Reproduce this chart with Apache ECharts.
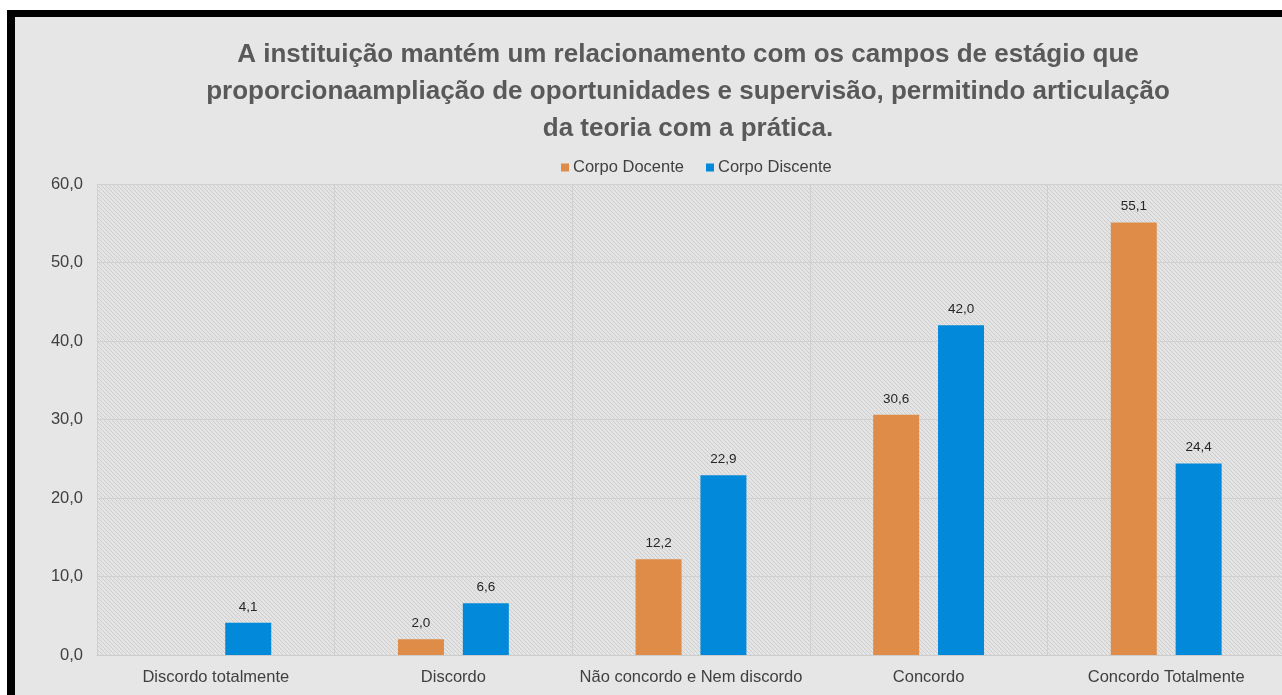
<!DOCTYPE html>
<html>
<head>
<meta charset="utf-8">
<script src="https://cdn.jsdelivr.net/npm/echarts@6/dist/echarts.min.js"></script>
<style>
  html, body { margin: 0; padding: 0; overflow: hidden; background: #fff; }
  #chart { width: 1376px; height: 695px; }
</style>
</head>
<body>
<div id="chart"></div>
<script>
const categories = ["Discordo totalmente", "Discordo", "Não concordo e Nem discordo", "Concordo", "Concordo Totalmente"];
const docente = [null, 2.0, 12.2, 30.6, 55.1];
const discente = [4.1, 6.6, 22.9, 42.0, 24.4];
const yTicks = [0, 10, 20, 30, 40, 50, 60];

const narrow = "'Liberation Sans Narrow', 'Arial Narrow', 'Liberation Sans', sans-serif";
const fmt = v => Number(v).toFixed(1).replace(".", ",");

// diagonal hatch for plot area
const pat = document.createElement("canvas");
pat.width = 4; pat.height = 4;
const pc = pat.getContext("2d");
pc.fillStyle = "#e4e4e4";
pc.fillRect(0, 0, 4, 4);
pc.strokeStyle = "#cdcdcd";
pc.lineWidth = 1;
pc.beginPath();
pc.moveTo(-1, -1); pc.lineTo(5, 5);
pc.moveTo(-1, 3); pc.lineTo(1, 5);
pc.moveTo(3, -1); pc.lineTo(5, 1);
pc.stroke();

const chart = echarts.init(document.getElementById("chart"));
const option = {
  backgroundColor: "#ffffff",
  graphic: [
    { type: "rect", z: -100, shape: { x: 7, y: 10, width: 2000, height: 1000 }, style: { fill: "#000" } },
    { type: "rect", z: -99, shape: { x: 15, y: 17, width: 2000, height: 1000 }, style: { fill: "#e6e6e6" } }
  ],
  title: {
    text: "A instituição mantém um relacionamento com os campos de estágio que\nproporcionaampliação de oportunidades e supervisão, permitindo articulação\nda teoria com a prática.",
    left: "center",
    top: 31,
    textStyle: {
      fontFamily: "'Liberation Sans', Arial, sans-serif",
      fontSize: 26,
      fontWeight: "bold",
      color: "#595959",
      lineHeight: 37
    }
  },
  legend: {
    data: ["Corpo Docente", "Corpo Discente"],
    top: 154,
    left: 556,
    itemWidth: 8,
    itemHeight: 8,
    itemGap: 22,
    icon: "rect",
    textStyle: { fontFamily: narrow, fontSize: 16.5, color: "#404040", padding: [0, 0, 0, -1] }
  },
  grid: {
    left: 97,
    right: 91,
    top: 184,
    bottom: 40,
    show: true,
    borderWidth: 0,
    backgroundColor: { image: pat, repeat: "repeat" }
  },
  xAxis: {
    type: "category",
    data: categories,
    axisTick: { show: false },
    axisLine: { lineStyle: { color: "#cccccc", width: 1 } },
    splitLine: { show: true, interval: 0, lineStyle: { color: "#d0d0d0", width: 1 } },
    axisLabel: { interval: 0, margin: 14, fontFamily: narrow, fontSize: 16.5, color: "#404040" }
  },
  yAxis: {
    type: "value",
    min: yTicks[0],
    max: yTicks[yTicks.length - 1],
    interval: 10,
    axisLine: { show: false },
    axisTick: { show: false },
    splitLine: { lineStyle: { color: "#d0d0d0", width: 1 } },
    axisLabel: { margin: 14, fontFamily: narrow, fontSize: 16.5, color: "#404040", formatter: v => fmt(v) }
  },
  series: [
    {
      name: "Corpo Docente",
      type: "bar",
      data: docente,
      barWidth: 46,
      barGap: "41%",
      itemStyle: { color: "#DE8C48" },
      label: {
        show: true, position: "top", distance: 9,
        fontFamily: narrow, fontSize: 13.5, color: "#262626",
        formatter: p => fmt(p.value)
      }
    },
    {
      name: "Corpo Discente",
      type: "bar",
      data: discente,
      barWidth: 46,
      barGap: "41%",
      itemStyle: { color: "#0389DA" },
      label: {
        show: true, position: "top", distance: 9,
        fontFamily: narrow, fontSize: 13.5, color: "#262626",
        formatter: p => fmt(p.value)
      }
    }
  ]
};
chart.setOption(option);
</script>
</body>
</html>
